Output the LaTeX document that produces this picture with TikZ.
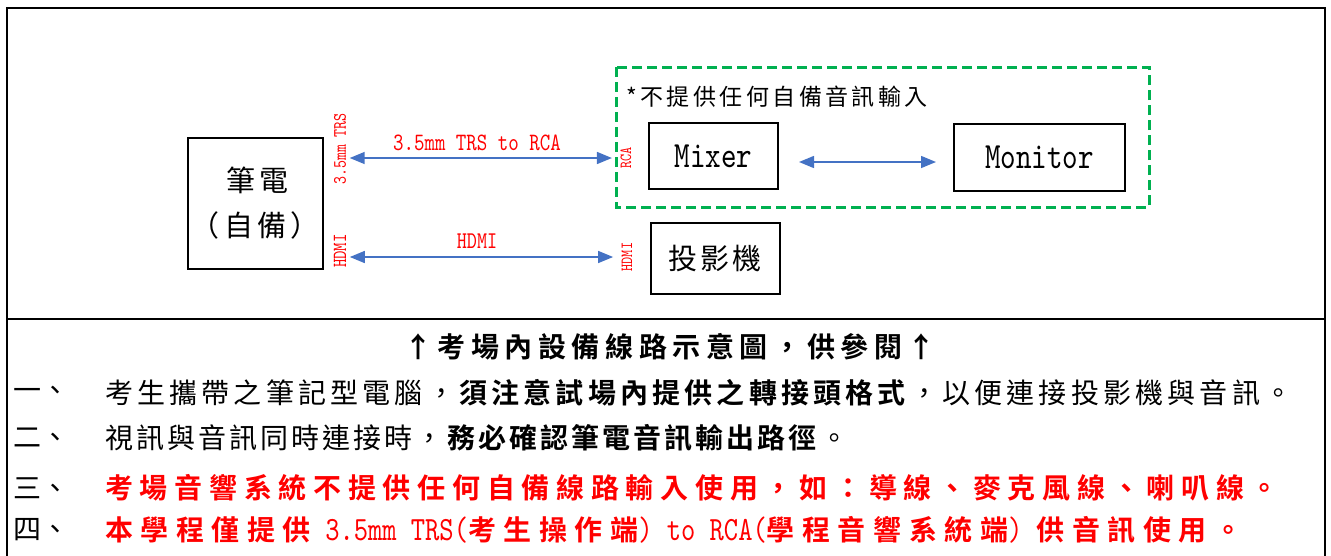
\documentclass[tikz,border=0pt]{standalone}
\usepackage{fontspec}
\usepackage{xcolor}
\usetikzlibrary{arrows.meta}

\newfontfamily\cjk[BoldFont={* Bold}]{Noto Sans CJK TC}
\newfontfamily\cjkA[LetterSpace=11,BoldFont={* Bold}]{Noto Sans CJK TC}
\newfontfamily\cjkB[LetterSpace=15,BoldFont={* Bold}]{Noto Sans CJK TC}
\newfontfamily\cjkC[LetterSpace=20,BoldFont={* Bold}]{Noto Sans CJK TC}
\newfontfamily\cjkD[LetterSpace=24,BoldFont={* Bold}]{Noto Sans CJK TC}
\newfontfamily\cjkE[LetterSpace=27,BoldFont={* Bold}]{Noto Sans CJK TC}
\newfontfamily\lat[FakeStretch=0.8]{lmmono10-regular.otf}
\newcommand\latbig{\lat\fontsize{34}{34}\selectfont}

\definecolor{lineblue}{RGB}{68,114,196}
\definecolor{boxgreen}{RGB}{0,176,80}
\definecolor{notered}{RGB}{255,0,0}

\tikzset{
	devbox/.style={draw, line width=2pt, inner sep=0pt},
	portlbl/.style={rotate=90, text=notered, inner sep=1pt},
	cable/.style={text=notered, inner sep=1pt},
	link/.style={lineblue, line width=1.5pt,
		{Triangle[length=15pt,width=12pt]}-{Triangle[length=15pt,width=12pt]}},
	noteline/.style={anchor=west, inner sep=0pt}
}

\begin{document}
\begin{tikzpicture}[x=1pt,y=-1pt]
		\useasboundingbox (0,0) rectangle (1331,555);
		% frame
		\draw[line width=2.5pt] (7,557) -- (7,8) -- (1325,8) -- (1325,557);
		\draw[line width=2.5pt] (7,319) -- (1325,319);

		\node[devbox, minimum width=135pt, minimum height=131pt, align=center, font=\cjkB\fontsize{29}{45}\selectfont] (laptop) at (255.5,203.5) {\hspace{4pt}筆電\\（自備）};
		\node[devbox, minimum width=129pt, minimum height=66pt, font=\lat\fontsize{37}{37}\selectfont] (mixer) at (713.5,156) {Mixer};
		\node[devbox, minimum width=171pt, minimum height=67pt, font=\lat\fontsize{37}{37}\selectfont] (monitor) at (1039.5,157.5) {Monitor};
		\node[devbox, minimum width=129pt, minimum height=71pt, font=\cjkA\fontsize{29}{29}\selectfont] (projector) at (715,258.5) {投影機};

		\draw[boxgreen, line width=3pt, dash pattern=on 10pt off 5pt] (616,67) rectangle (1149,207);
		\node[noteline, font=\cjkB\fontsize{23}{23}\selectfont] (nosupply) at (626,97) {*不提供任何自備音訊輸入};

		\node[portlbl, font=\lat\fontsize{19}{19}\selectfont] (trsL) at (340,149) {3.5mm TRS};
		\node[portlbl, font=\lat\fontsize{20}{20}\selectfont] (hdmiL) at (340,251) {HDMI};
		\node[portlbl, font=\lat\fontsize{17}{17}\selectfont] (rcaR) at (626,158) {RCA};
		\node[portlbl, font=\lat\fontsize{17}{17}\selectfont] (hdmiR) at (627,257) {HDMI};

		\draw[link, shorten <=2.5pt, shorten >=7.5pt] (trsL.south |- rcaR) -- (rcaR.north);
		\draw[link, shorten <=2.5pt, shorten >=7.5pt] (hdmiL.south |- hdmiR) -- (hdmiR.north);
		\draw[link, shorten <=20pt, shorten >=17pt] ([yshift=-6pt]mixer.east) -- ([yshift=-6pt]mixer.east -| monitor.west);

		\node[cable, font=\lat\fontsize{25}{25}\selectfont] (trsCable) at (477,143) {3.5mm TRS to RCA};
		\node[cable, font=\lat\fontsize{24}{24}\selectfont] (hdmiCable) at (477,241) {HDMI};

		% notes below the divider
		\node[font=\cjkC\bfseries\fontsize{28}{28}\selectfont] (caption) at (670,347) {↑考場內設備線路示意圖，供參閱↑};

		\node[noteline, font=\cjk\fontsize{28}{28}\selectfont] (n1) at (13,393) {一、};
		\node[noteline, font=\cjk\fontsize{28}{28}\selectfont] (n2) at (13,438) {二、};
		\node[noteline, font=\cjk\fontsize{28}{28}\selectfont] (n3) at (13,488) {三、};
		\node[noteline, font=\cjk\fontsize{28}{28}\selectfont] (n4) at (13,530) {四、};

		\node[noteline, font=\cjkB\fontsize{28}{28}\selectfont] (t1) at (105,393) {考生攜帶之筆記型電腦，\textbf{須注意試場內提供之轉接頭格式}，以便連接投影機與音訊。};
		\node[noteline, font=\cjkA\fontsize{28}{28}\selectfont] (t2) at (105,438) {視訊與音訊同時連接時，\textbf{務必確認筆電音訊輸出路徑}。};
		\node[noteline, text=notered, font=\cjkD\bfseries\fontsize{28}{28}\selectfont] (t3) at (105,488) {考場音響系統不提供任何自備線路輸入使用，如：導線、麥克風線、喇叭線。};
		\node[noteline, text=notered, font=\cjkE\bfseries\fontsize{28}{28}\selectfont] (t4) at (105,530) {本學程僅提供{\latbig\ 3.5mm TRS(}考生操作端{\latbig) to RCA(}學程音響系統端{\latbig) }供音訊使用。};
\end{tikzpicture}
\end{document}
